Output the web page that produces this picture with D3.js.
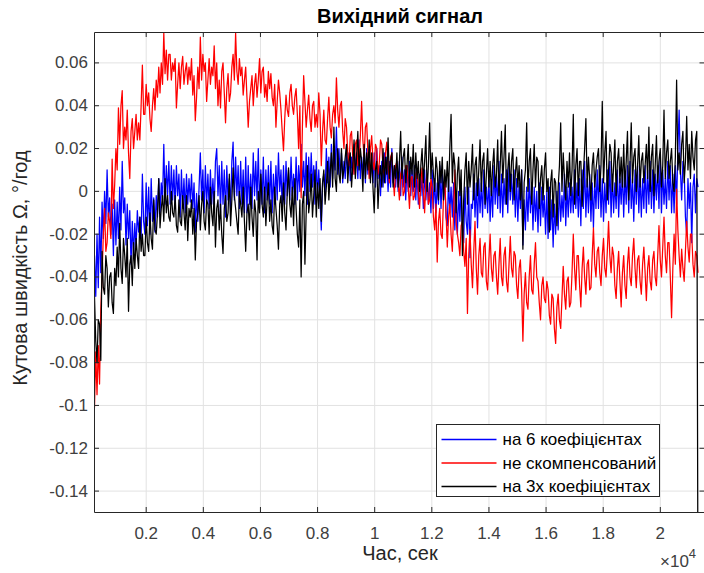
<!DOCTYPE html>
<html>
<head>
<meta charset="utf-8">
<script src="https://cdn.jsdelivr.net/npm/d3@7"></script>
<style>
body { margin: 0; background: #fff; }
svg { display: block; font-family: "Liberation Sans", Arial, sans-serif; }
.axis path, .axis line { stroke: #262626; fill: none; }
.axis text { fill: #404040; font-size: 17px; }
.grid line { stroke: #e2e2e2; }
.grid path { stroke: none; }
</style>
</head>
<body>
<svg id="chart" width="704" height="573"></svg>
<script>
// sampling grid of the record, seconds
var tStart = 190, tEnd = 21320;

// angular rate, units of 1e-3 deg/h, one value per sample
var blue6 = [
  -30, -49, -20, -45, -12, -38, -5, -22, 0, -15, 10, -12, -3, -20, -6, -30, -4, -25, -5, -22,
  2, -18, 14, -10, -3, -25, -6, -22, -9, -34, -14, -30, -15, -26, -9, -19, -12, -22, 8, -14,
  -20, 4, -16, 2, -20, 6, -14, -3, -19, -2, -12, 6, -10, 4, -4, 22, -6, 12, -2, 14,
  -6, 12, -4, 10, -8, 12, -2, 8, -12, 10, -8, 6, -10, 8, -6, 6, -5, 8, -8, 4,
  -19, -1, -14, 2, 18, -4, 10, -10, 12, -6, 8, -8, 10, -6, 6, -8, 14, 20, -2, 12,
  -10, 14, -6, 10, -12, 12, -4, 6, -8, 14, 23, -4, 16, -2, 12, -8, 14, -6, 10, -10,
  16, -10, 12, -6, 8, -8, 18, -2, 14, -4, 20, -8, 10, -6, 16, -10, 10, -4, 12, -6,
  14, -10, 8, -6, 12, -4, 18, 0, 10, -8, 12, -6, 14, -2, 10, -4, 16, -2, 8, -6,
  16, -4, 12, 0, 22, 2, 14, -2, 18, -6, 16, 0, 18, 2, 12, -6, 14, -2, 10, -4,
  -18, 4, 8, -2, 20, 4, 16, 2, 22, 6, 18, 10, 30, 8, 20, 6, 18, 4, 14, 6,
  20, 8, 18, 5, 16, 8, 22, 10, 18, 6, 24, 6, 16, 8, 18, 4, 20, 8, 14, 6,
  16, 4, 18, 2, 20, 6, 12, -2, 14, 2, 18, 4, 16, 0, 14, 2, 20, 4, 12, 2,
  12, 0, 14, -2, 16, 2, 10, -4, 12, 0, 14, -2, 10, 0, 12, -4, 10, -6, 8, -2,
  8, -8, 10, -4, 6, -6, 4, -10, 10, -8, 6, -10, 4, -6, 12, -8, 8, -4, 6, -12,
  -16, 6, -10, 2, -12, 4, -18, -2, -20, 0, -14, 4, -16, -24, 2, -14, -20, 2, -31, -6,
  -8, 8, -12, 4, -17, 6, -10, 4, -12, 10, -8, 2, -10, 6, -14, 4, -12, 12, -6, 8,
  -8, 14, -10, 8, -12, 6, -6, 10, -10, 12, -4, 8, -6, 10, -12, 6, -14, 4, -8, 10,
  -25, -4, -18, 2, -14, 6, -10, 4, -18, 2, -14, 0, -19, 4, -16, 2, -12, -2, -20, 0,
  -22, 2, -18, -4, -26, -6, -20, 0, -18, 4, -14, -2, -12, 8, -16, 2, -12, 4, -10, 2,
  -10, 10, -8, 4, -12, 6, -16, 10, -8, 14, -12, 6, -10, 8, -14, 4, -17, 6, -8, 10,
  -8, 12, -12, 6, -14, 4, -10, 10, -6, 14, -12, 8, -10, 4, -8, 10, -12, 6, -6, 10,
  -12, 8, -6, 12, -10, 14, -8, 6, -14, 10, -6, 12, -10, 8, -12, 6, -8, 12, -10, 10,
  -6, 14, -8, 10, -10, 8, -4, 12, -8, 16, -10, 10, -6, 6, -8, 14, -4, 12, -10, 8,
  -10, 12, -6, 20, 38, 10, -4, 14, 10, -12, -20, 6, -8, 4, -24, 2, 8, -10, 6, 2
];

var redRaw = [
  -101, -75, -95, -72, -90, -55, -40, -20, -8, -28, -24, -10, -14, -22, 15, -8, 3, 20, 10, 39,
  22, 40, 47, 20, 30, 24, 38, 18, 6, 28, 34, 20, 28, 36, 24, 32, 24, 40, 59, 36,
  36, 50, 40, 46, 34, 28, 40, 48, 38, 52, 44, 58, 46, 60, 50, 74, 55, 66, 52, 64,
  64, 52, 60, 56, 62, 39, 50, 60, 48, 58, 63, 50, 56, 60, 50, 58, 52, 62, 45, 54,
  33, 44, 58, 48, 72, 52, 64, 56, 60, 42, 52, 62, 50, 58, 54, 68, 48, 60, 40, 52,
  39, 56, 60, 46, 32, 48, 55, 42, 46, 58, 64, 52, 74, 56, 50, 62, 54, 58, 45, 52,
  58, 44, 30, 42, 48, 54, 40, 50, 55, 44, 52, 62, 46, 56, 58, 44, 50, 42, 56, 48,
  55, 44, 40, 50, 30, 42, 52, 46, 38, 28, 19, 34, 45, 38, 35, 46, 50, 40, 36, 44,
  48, 36, 20, 40, -3, 30, 54, 42, 30, 38, 45, 34, 28, 40, 42, 30, 36, 30, 46, 36,
  12, 28, 38, 24, 22, 34, 44, 30, 25, 36, 40, 32, 53, 38, 30, 40, 42, 28, 20, 34,
  30, 18, 12, 26, 28, 16, 8, 22, 24, 12, 14, 26, 42, 24, 16, 30, 32, 18, 6, 20,
  26, 14, 10, 22, 20, 8, 13, 24, 22, 10, 8, 18, 23, 12, 4, 16, 18, 6, -2, 12,
  14, 4, -4, 8, 10, -2, 0, 12, 12, 2, -8, 6, 7, -4, -2, 8, 10, 0, -8, 4,
  11, 0, -10, 4, 8, -6, -4, 6, 2, -12, -18, -6, -33, -14, -8, -20, -22, -2, 6, -10,
  -26, -12, -6, -20, -28, -10, 10, -14, -20, -24, -30, -16, -14, -28, -35, -22, -57, -30, -18, -34,
  -45, -28, -14, -36, -48, -30, -22, -38, -40, -26, -24, -42, -46, -32, -20, -36, -42, -30, -28, -40,
  -48, -34, -22, -40, -44, -30, -26, -42, -47, -34, -21, -36, -40, -28, -30, -44, -50, -36, -32, -46,
  -70, -48, -38, -52, -55, -40, -30, -46, -48, -34, -24, -40, -42, -52, -60, -44, -40, -50, -52, -42,
  -46, -58, -62, -48, -50, -64, -71, -54, -48, -60, -64, -50, -35, -48, -55, -42, -40, -54, -52, -38,
  -20, -36, -46, -30, -30, -44, -54, -36, -26, -40, -48, -34, -32, -46, -45, -30, -17, -34, -40, -28,
  -26, -38, -44, -30, -22, -36, -40, -28, -14, -30, -38, -26, -30, -44, -50, -36, -28, -42, -54, -38,
  -30, -44, -50, -34, -26, -40, -44, -30, -22, -36, -45, -32, -30, -42, -48, -34, -26, -38, -51, -36,
  -30, -42, -46, -32, -28, -40, -44, -30, -16, -32, -40, -26, -12, -30, -38, -24, -24, -40, -59, -36,
  -20, -34, 1, -18, -30, -40, -27, -36, -42, -28, -14, -26, -33, -20, -20, -34, -40, -28, -30, -38
];

var black3 = [
  -49, -70, -80, -60, -62, -79, -28, -45, -48, -30, -36, -54, -40, -38, -52, -57, -36, -44, -26, -40,
  -15, -36, -43, -22, -30, -40, -22, -56, -34, -30, -44, -24, -36, -22, -30, -36, -12, -28, -20, -30,
  -30, -12, -24, -28, -10, -22, -27, -4, -18, -20, -10, 6, -17, -8, -2, -14, 6, -10, -2, -12,
  -14, 0, -10, -12, -2, -16, -19, -4, -14, -16, -2, -10, -18, -2, -23, -8, -12, -4, -20, -8,
  -32, -14, -10, -2, -18, -6, 0, -14, -18, -4, -6, -20, 2, -10, -16, 0, -26, -8, -4, -18,
  -6, -20, -29, -8, -2, -14, -10, 8, -16, -4, 11, -2, -8, -14, -20, 0, -6, -12, 2, -14,
  -28, -10, -6, -18, 2, -12, -21, -4, -10, -32, 0, -10, 8, -6, -12, 2, -16, -4, 4, -14,
  -4, -16, -20, 2, -8, -16, -27, -6, -2, -14, 4, -10, -18, 0, 11, -6, -12, 2, -16, 6,
  -8, -20, -26, -4, -40, -6, 0, -34, -10, 12, -10, -4, 8, -12, -2, 10, -12, 4, -8, 6,
  -14, 4, 10, -6, 2, 14, -4, 8, 18, 2, 30, 6, 0, 20, 8, 4, 20, 6, 10, 16,
  22, 4, 14, 18, 2, 12, 24, 6, 16, 28, 10, 20, 14, 0, 22, 6, 18, 10, 24, 4,
  18, 2, -10, 10, 14, -8, 6, 12, 2, 20, 4, 16, 8, 25, 6, 14, 18, 2, 12, 6,
  18, 2, 14, 28, 6, 16, 20, 4, 12, 22, 2, 16, 8, 22, 2, 18, 6, 14, 0, 12,
  20, 4, 14, 26, 0, 12, 32, 6, 18, 8, 0, 16, 10, -4, 14, 4, 16, -4, 10, 2,
  14, 0, 20, 36, 4, 18, 12, -10, 8, 16, -2, 10, -30, -4, 10, 18, -6, 14, 2, 10,
  22, -4, 12, 16, -2, 10, 24, 0, 14, 18, -6, 8, 20, 2, 14, -2, 12, 20, 2, 8,
  24, -2, 12, 28, 4, 16, 31, -6, 10, 18, 0, 14, 20, -4, 8, 16, 2, 12, -4, 10,
  -27, 4, 10, 32, 0, 14, 20, -6, 10, 22, 2, 16, 14, -8, 6, 12, -4, 10, 18, 0,
  6, -19, 4, 10, -12, 6, 4, -16, 2, 12, 32, 0, 18, 6, -4, 14, 2, 18, -2, 10,
  36, -6, 12, 20, -2, 14, 14, -7, 8, 20, 34, 2, 16, 6, -4, 12, 18, 2, 10, 16,
  20, 0, 12, 42, 4, 18, 28, -4, 10, 22, 18, 0, 12, 24, -2, 14, 20, 4, 16, 2,
  22, 2, 14, 28, -4, 12, 32, 4, 16, 20, 0, 12, 26, 2, 14, 18, 4, 12, 22, 6,
  30, 0, 16, 22, -2, 12, 26, 4, 14, 20, 2, 12, 38, 6, 18, 24, 6, 14, 20, 4,
  0, 16, 52, 10, 18, 8, 22, 28, 4, 14, 35, 10, 22, 6, 28, 16, 10, 24, 28, -200
];

var legendNames = ['на 6 коефіцієнтах', 'не скомпенсований', 'на 3х коефіцієнтах'];
var xTicks = [2000, 4000, 6000, 8000, 10000, 12000, 14000, 16000, 18000, 20000];
var yTicks = [-0.14, -0.12, -0.1, -0.08, -0.06, -0.04, -0.02, 0, 0.02, 0.04, 0.06];

// розміри
var margin = {top: 32, left: 94},
  width = 610.5,
  height = 480;

var x = d3.scaleLinear().domain([190, 21564]).range([0, width]);
var y = d3.scaleLinear().domain([-0.15, 0.0742]).range([height, 0]);

var svg = d3.select('#chart');
var g = svg.append('g')
  .attr('transform', 'translate(' + margin.left + ',' + margin.top + ')');

g.append('defs').append('clipPath').attr('id', 'clip')
  .append('rect').attr('x', 0.5).attr('y', 0.5).attr('width', width).attr('height', height);

// сітка
g.append('g').attr('class', 'grid')
  .attr('transform', 'translate(0,' + height + ')')
  .call(d3.axisBottom(x).tickValues(xTicks).tickSize(-height).tickFormat(''));
g.append('g').attr('class', 'grid')
  .call(d3.axisLeft(y).tickValues(yTicks).tickSize(-width).tickFormat(''));

// лінії сигналів
var step = (tEnd - tStart) / (blue6.length - 1);
var line = d3.line()
  .x(function(d, i) { return x(tStart + i * step) + 0.5; })
  .y(function(d) { return y(d / 1000) + 0.5; });

var series = [
  {values: blue6, color: '#0000ff'},
  {values: redRaw, color: '#ff0000'},
  {values: black3, color: '#000000'}
];

g.append('g').attr('clip-path', 'url(#clip)')
  .selectAll('path')
  .data(series)
  .enter().append('path')
  .attr('fill', 'none')
  .attr('stroke', function(d) { return d.color; })
  .attr('stroke-width', 1.25)
  .attr('stroke-linejoin', 'round')
  .attr('d', function(d) { return line(d.values); });

// осі
var fmtX = function(d) { return String(+(d / 1e4).toFixed(1)); };
var fmtY = function(d) { return String(+d.toFixed(2)); };

g.append('g').attr('class', 'axis')
  .attr('transform', 'translate(0,' + height + ')')
  .call(d3.axisBottom(x).tickValues(xTicks).tickSize(-5).tickSizeOuter(0).tickPadding(15).tickFormat(fmtX));
g.append('g').attr('class', 'axis')
  .call(d3.axisTop(x).tickValues(xTicks).tickSize(-5).tickSizeOuter(0).tickFormat(''));
g.append('g').attr('class', 'axis')
  .call(d3.axisLeft(y).tickValues(yTicks).tickSize(-5).tickSizeOuter(0).tickPadding(6).tickFormat(fmtY));
g.append('g').attr('class', 'axis')
  .attr('transform', 'translate(' + width + ',0)')
  .call(d3.axisRight(y).tickValues(yTicks).tickSize(-5).tickSizeOuter(0).tickFormat(''));

// заголовок і підписи
svg.append('text')
  .attr('x', 400).attr('y', 23)
  .attr('text-anchor', 'middle')
  .style('font-weight', 'bold').style('font-size', '20px').style('fill', '#000')
  .text('Вихідний сигнал');

svg.append('text')
  .attr('x', 400).attr('y', 560)
  .attr('text-anchor', 'middle')
  .style('font-size', '20px').style('fill', '#262626')
  .text('Час, сек');

svg.append('text')
  .attr('transform', 'translate(27,268) rotate(-90)')
  .attr('text-anchor', 'middle')
  .style('font-size', '20px').style('fill', '#262626')
  .text('Кутова швидкість Ω,  °/год');

var mult = svg.append('text')
  .attr('x', 660).attr('y', 567)
  .style('font-size', '17px').style('fill', '#404040');
mult.append('tspan').text('×10');
mult.append('tspan').attr('dy', -9).style('font-size', '13px').text('4');

// легенда
var legend = svg.append('g').attr('transform', 'translate(436.5,424.5)');
legend.append('rect')
  .attr('width', 223).attr('height', 72)
  .attr('fill', '#fff').attr('stroke', '#262626');
var rows = legend.selectAll('.lg-row')
  .data(series)
  .enter().append('g')
  .attr('class', 'lg-row')
  .attr('transform', function(d, i) { return 'translate(0,' + (15 + i * 23.5) + ')'; });
rows.append('line')
  .attr('x1', 5).attr('x2', 60)
  .attr('stroke-width', 1.5)
  .attr('stroke', function(d) { return d.color; });
rows.append('text')
  .attr('x', 66).attr('dy', '0.35em')
  .style('font-size', '17px').style('fill', '#000')
  .text(function(d, i) { return legendNames[i]; });
</script>
</body>
</html>
